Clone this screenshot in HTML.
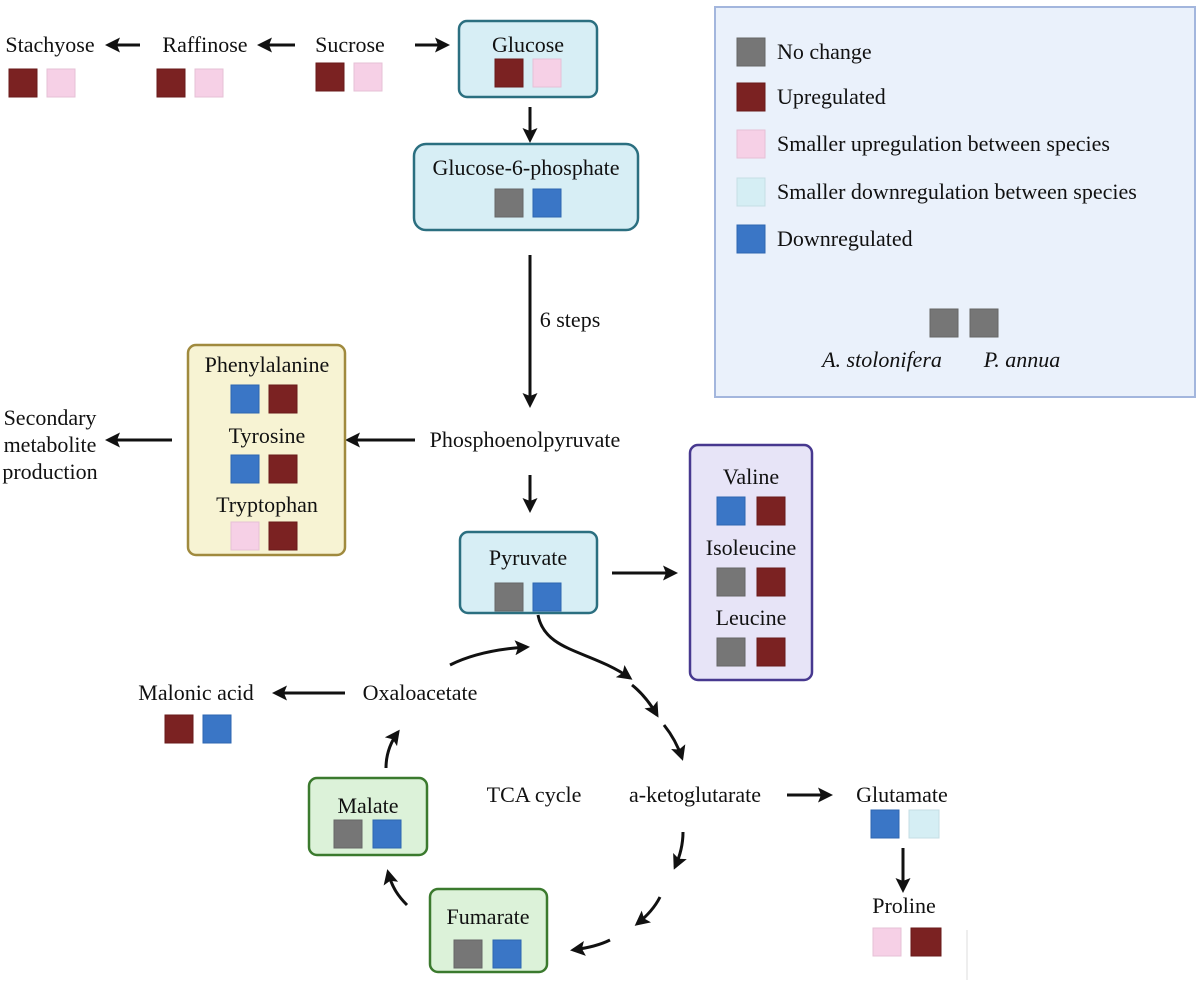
<!DOCTYPE html>
<html><head><meta charset="utf-8"><style>
html,body{margin:0;padding:0;background:#fff;}
svg{display:block;}
text{font-family:"Liberation Serif","Times New Roman",serif;font-size:22px;fill:#111;}
</style></head><body>
<svg width="1200" height="982" viewBox="0 0 1200 982" xmlns="http://www.w3.org/2000/svg">
<defs>
<marker id="ah" viewBox="0 0 10 10" refX="8" refY="5" markerWidth="5" markerHeight="5" orient="auto" markerUnits="strokeWidth">
<path d="M0,0 L10,5 L0,10 L2,5 Z" fill="#111"/></marker>
<style>
.G{fill:#767676;stroke:#666;stroke-width:1}
.R{fill:#7b2222;stroke:#6a1a1a;stroke-width:1}
.P{fill:#f6d0e6;stroke:#e6c0d6;stroke-width:1}
.C{fill:#d5eef4;stroke:#c5dee4;stroke-width:1}
.B{fill:#3a76c6;stroke:#2d66b0;stroke-width:1}
.a{stroke:#111;stroke-width:3;fill:none;marker-end:url(#ah)}
</style>
</defs>

<!-- Legend -->
<rect x="715" y="7" width="480" height="390" fill="#eaf1fb" stroke="#a3b6dd" stroke-width="2"/>
<rect class="G" x="737" y="38" width="28" height="28"/><text x="777" y="59">No change</text>
<rect class="R" x="737" y="83" width="28" height="28"/><text x="777" y="104">Upregulated</text>
<rect class="P" x="737" y="130" width="28" height="28"/><text x="777" y="151">Smaller upregulation between species</text>
<rect class="C" x="737" y="178" width="28" height="28"/><text x="777" y="199">Smaller downregulation between species</text>
<rect class="B" x="737" y="225" width="28" height="28"/><text x="777" y="246">Downregulated</text>
<rect class="G" x="930" y="309" width="28" height="28"/><rect class="G" x="970" y="309" width="28" height="28"/>
<text x="882" y="367" text-anchor="middle" font-style="italic">A. stolonifera</text>
<text x="1022" y="367" text-anchor="middle" font-style="italic">P. annua</text>

<!-- Top row -->
<text x="50" y="52" text-anchor="middle">Stachyose</text>
<rect class="R" x="9" y="69" width="28" height="28"/><rect class="P" x="47" y="69" width="28" height="28"/>
<text x="205" y="52" text-anchor="middle">Raffinose</text>
<rect class="R" x="157" y="69" width="28" height="28"/><rect class="P" x="195" y="69" width="28" height="28"/>
<text x="350" y="52" text-anchor="middle">Sucrose</text>
<rect class="R" x="316" y="63" width="28" height="28"/><rect class="P" x="354" y="63" width="28" height="28"/>
<line class="a" x1="140" y1="45" x2="108" y2="45"/>
<line class="a" x1="295" y1="45" x2="260" y2="45"/>
<line class="a" x1="415" y1="45" x2="447" y2="45"/>

<rect x="459" y="21" width="138" height="76" rx="8" fill="#d7eef5" stroke="#2b6f80" stroke-width="2.5"/>
<text x="528" y="52" text-anchor="middle">Glucose</text>
<rect class="R" x="495" y="59" width="28" height="28"/><rect class="P" x="533" y="59" width="28" height="28"/>
<line class="a" x1="530" y1="107" x2="530" y2="140"/>

<rect x="414" y="144" width="224" height="86" rx="12" fill="#d7eef5" stroke="#2b6f80" stroke-width="2.5"/>
<text x="526" y="175" text-anchor="middle">Glucose-6-phosphate</text>
<rect class="G" x="495" y="189" width="28" height="28"/><rect class="B" x="533" y="189" width="28" height="28"/>

<line class="a" x1="530" y1="255" x2="530" y2="405"/>
<text x="570" y="327" text-anchor="middle">6 steps</text>
<text x="525" y="447" text-anchor="middle">Phosphoenolpyruvate</text>
<line class="a" x1="415" y1="440" x2="348" y2="440"/>

<!-- Aromatic box -->
<rect x="188" y="345" width="157" height="210" rx="8" fill="#f7f3d3" stroke="#a08a3e" stroke-width="2.5"/>
<text x="267" y="372" text-anchor="middle">Phenylalanine</text>
<rect class="B" x="231" y="385" width="28" height="28"/><rect class="R" x="269" y="385" width="28" height="28"/>
<text x="267" y="443" text-anchor="middle">Tyrosine</text>
<rect class="B" x="231" y="455" width="28" height="28"/><rect class="R" x="269" y="455" width="28" height="28"/>
<text x="267" y="512" text-anchor="middle">Tryptophan</text>
<rect class="P" x="231" y="522" width="28" height="28"/><rect class="R" x="269" y="522" width="28" height="28"/>
<line class="a" x1="172" y1="440" x2="108" y2="440"/>
<text x="50" y="425" text-anchor="middle">Secondary</text>
<text x="50" y="452" text-anchor="middle">metabolite</text>
<text x="50" y="479" text-anchor="middle">production</text>

<line class="a" x1="530" y1="475" x2="530" y2="510"/>
<rect x="460" y="532" width="137" height="81" rx="8" fill="#d7eef5" stroke="#2b6f80" stroke-width="2.5"/>
<text x="528" y="565" text-anchor="middle">Pyruvate</text>
<rect class="G" x="495" y="583" width="28" height="28"/><rect class="B" x="533" y="583" width="28" height="28"/>
<line class="a" x1="612" y1="573" x2="675" y2="573"/>

<!-- BCAA box -->
<rect x="690" y="445" width="122" height="235" rx="8" fill="#e7e4f7" stroke="#47388f" stroke-width="2.5"/>
<text x="751" y="484" text-anchor="middle">Valine</text>
<rect class="B" x="717" y="497" width="28" height="28"/><rect class="R" x="757" y="497" width="28" height="28"/>
<text x="751" y="555" text-anchor="middle">Isoleucine</text>
<rect class="G" x="717" y="568" width="28" height="28"/><rect class="R" x="757" y="568" width="28" height="28"/>
<text x="751" y="625" text-anchor="middle">Leucine</text>
<rect class="G" x="717" y="638" width="28" height="28"/><rect class="R" x="757" y="638" width="28" height="28"/>

<!-- TCA -->
<path class="a" d="M538,615 C545,652 590,650 630,678"/>
<path class="a" d="M632,685 C642,693 650,703 657,715"/>
<path class="a" d="M664,725 C672,735 678,746 682,758"/>
<path class="a" d="M683,832 C683,845 680,856 675,867"/>
<path class="a" d="M660,897 C655,907 647,916 637,924"/>
<path class="a" d="M610,940 C600,945 588,948 573,950"/>
<path class="a" d="M407,905 C399,897 392,888 388,872"/>
<path class="a" d="M386,768 C386,755 390,743 398,732"/>
<path class="a" d="M450,665 C470,655 495,649 527,647"/>

<text x="420" y="700" text-anchor="middle">Oxaloacetate</text>
<line class="a" x1="345" y1="693" x2="275" y2="693"/>
<text x="196" y="700" text-anchor="middle">Malonic acid</text>
<rect class="R" x="165" y="715" width="28" height="28"/><rect class="B" x="203" y="715" width="28" height="28"/>

<text x="534" y="802" text-anchor="middle">TCA cycle</text>
<text x="695" y="802" text-anchor="middle">a-ketoglutarate</text>
<line class="a" x1="787" y1="795" x2="830" y2="795"/>
<text x="902" y="802" text-anchor="middle">Glutamate</text>
<rect class="B" x="871" y="810" width="28" height="28"/><rect class="C" x="909" y="810" width="30" height="28"/>
<line class="a" x1="903" y1="848" x2="903" y2="890"/>
<text x="904" y="913" text-anchor="middle">Proline</text>
<rect class="P" x="873" y="928" width="28" height="28"/><rect class="R" x="911" y="928" width="30" height="28"/>
<line x1="967" y1="930" x2="967" y2="980" stroke="#ddd" stroke-width="1"/>

<rect x="309" y="778" width="118" height="77" rx="8" fill="#dcf2d9" stroke="#3b7a2e" stroke-width="2.5"/>
<text x="368" y="813" text-anchor="middle">Malate</text>
<rect class="G" x="334" y="820" width="28" height="28"/><rect class="B" x="373" y="820" width="28" height="28"/>

<rect x="430" y="889" width="117" height="83" rx="8" fill="#dcf2d9" stroke="#3b7a2e" stroke-width="2.5"/>
<text x="488" y="924" text-anchor="middle">Fumarate</text>
<rect class="G" x="454" y="940" width="28" height="28"/><rect class="B" x="493" y="940" width="28" height="28"/>
</svg>
</body></html>
